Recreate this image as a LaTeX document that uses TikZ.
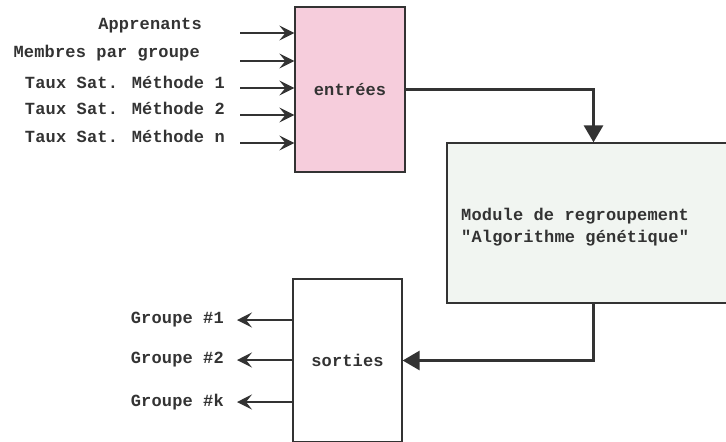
\documentclass[tikz,border=0pt]{standalone}
\usepackage{fontspec}
\newfontfamily\diagfont[LetterSpace=1]{Liberation Mono}
\usetikzlibrary{arrows.meta}
\definecolor{ink}{HTML}{333333}
\definecolor{pinkfill}{HTML}{F6CDDC}
\definecolor{modfill}{HTML}{F1F5F1}
\tikzset{
  box/.style={draw=ink, line width=1.3pt, inner sep=0pt, text=ink},
  thin arrow/.style={draw=ink, line width=1.5pt, -{Stealth[length=15pt,width=15pt,inset=6pt]}},
  thick arrow/.style={draw=ink, line width=3pt, -{Triangle[length=17pt,width=19pt]}},
  lbl/.style={text=ink, inner sep=0pt},
}
\begin{document}
\begin{tikzpicture}[x=1pt,y=-1pt, font=\diagfont\bfseries\fontsize{17}{19}\selectfont]
\useasboundingbox (0,0) rectangle (726,442);
% boxes
\node[box, fill=pinkfill, minimum width=110pt, minimum height=165pt] (ent) at (350,89.5) {entrées};
\node[box, fill=modfill, minimum width=293pt, minimum height=160pt] (mod) at (593.5,223) {};
\node[lbl, anchor=west, align=left] (modtxt) at (461,227) {Module de regroupement\\[3pt]"Algorithme génétique"};
\node[box, fill=white, minimum width=109pt, minimum height=163pt] (sor) at (347.5,360.5) {sorties};
% inputs
\foreach \i/\y/\ly/\lx/\t in {1/33/26/202/Apprenants, 2/61/53/200/Membres par groupe, 3/88/82/225/Taux Sat. Méthode 1, 4/115/108/225/Taux Sat. Méthode 2, 5/143/136/225/Taux Sat. Méthode n}{
  \coordinate (in\i) at (240,\y);
  \node[lbl, anchor=east] (inl\i) at (\lx,\ly) {\t};
  \draw[thin arrow] (in\i) -- (ent.west |- in\i);
}
% outputs
\foreach \i/\y/\t in {1/320/Groupe \#1, 2/360/Groupe \#2, 3/402/Groupe \#k}{
  \coordinate (out\i) at (237,\y);
  \node[lbl, anchor=east] (outl\i) at (224,\y) {\t};
  \draw[thin arrow] (sor.west |- out\i) -- (out\i);
}
% main flow
\draw[thick arrow] (ent.east) -| (mod.north);
\draw[thick arrow] (mod.south) |- (sor.east);
\end{tikzpicture}
\end{document}
